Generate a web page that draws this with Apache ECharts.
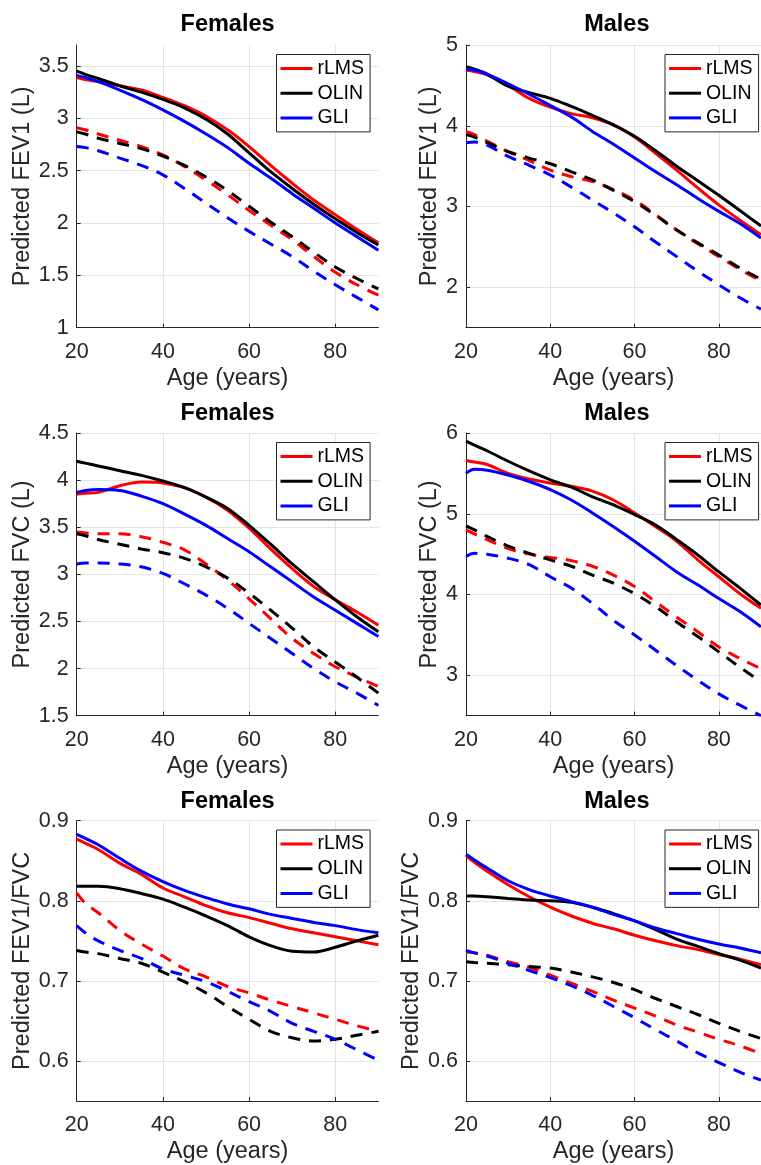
<!DOCTYPE html>
<html>
<head>
<meta charset="UTF-8">
<title>Predicted spirometry</title>
<style>
  html, body { margin: 0; padding: 0; background: #fff; }
  #box { width: 761px; height: 1165px; }
</style>
</head>
<body>
<div id="box"></div>
<script src="https://cdn.jsdelivr.net/npm/echarts@6/dist/echarts.min.js"></script>
<script>
var ages = [20, 22, 25, 30, 35, 40, 45, 50, 55, 60, 65, 70, 75, 80, 85, 90];
var ageTicks = [20, 40, 60, 80];
var models = ['rLMS', 'OLIN', 'GLI'];
var colors = ['#ff0000', '#000000', '#0000ff'];

// females FEV1 (solid = predicted, dashed = lower limit)
var fFev1Rlms = [3.39, 3.37, 3.35, 3.31, 3.27, 3.20, 3.12, 3.02, 2.89, 2.73, 2.55, 2.38, 2.22, 2.08, 1.94, 1.81];
var fFev1Olin = [3.45, 3.42, 3.38, 3.31, 3.25, 3.18, 3.10, 2.99, 2.85, 2.67, 2.49, 2.33, 2.18, 2.04, 1.91, 1.79];
var fFev1Gli  = [3.41, 3.39, 3.35, 3.27, 3.18, 3.08, 2.97, 2.85, 2.72, 2.57, 2.43, 2.28, 2.14, 2.00, 1.87, 1.74];
var fFev1RlmsLow = [2.91, 2.89, 2.85, 2.79, 2.73, 2.65, 2.54, 2.41, 2.27, 2.12, 1.98, 1.84, 1.68, 1.53, 1.41, 1.31];
var fFev1OlinLow = [2.87, 2.85, 2.81, 2.76, 2.71, 2.64, 2.55, 2.44, 2.31, 2.16, 2.01, 1.87, 1.72, 1.58, 1.47, 1.37];
var fFev1GliLow  = [2.73, 2.72, 2.69, 2.62, 2.55, 2.46, 2.33, 2.19, 2.05, 1.92, 1.80, 1.68, 1.54, 1.41, 1.29, 1.17];

// males FEV1
var mFev1Rlms = [4.69, 4.67, 4.63, 4.50, 4.34, 4.23, 4.15, 4.10, 4.01, 3.86, 3.66, 3.45, 3.23, 3.02, 2.83, 2.65];
var mFev1Olin = [4.73, 4.70, 4.64, 4.49, 4.41, 4.34, 4.24, 4.13, 4.01, 3.87, 3.69, 3.50, 3.32, 3.14, 2.95, 2.76];
var mFev1Gli  = [4.70, 4.69, 4.64, 4.52, 4.39, 4.25, 4.11, 3.93, 3.77, 3.60, 3.43, 3.27, 3.10, 2.94, 2.79, 2.61];
var mFev1RlmsLow = [3.93, 3.89, 3.81, 3.68, 3.57, 3.45, 3.37, 3.31, 3.21, 3.08, 2.90, 2.71, 2.54, 2.38, 2.22, 2.08];
var mFev1OlinLow = [3.89, 3.86, 3.79, 3.68, 3.60, 3.53, 3.43, 3.33, 3.20, 3.06, 2.89, 2.71, 2.55, 2.40, 2.24, 2.10];
var mFev1GliLow  = [3.79, 3.80, 3.76, 3.62, 3.51, 3.39, 3.24, 3.08, 2.92, 2.75, 2.56, 2.38, 2.20, 2.03, 1.87, 1.73];

// females FVC
var fFvcRlms = [3.85, 3.86, 3.87, 3.94, 3.98, 3.97, 3.92, 3.82, 3.68, 3.49, 3.27, 3.06, 2.87, 2.73, 2.60, 2.46];
var fFvcOlin = [4.20, 4.18, 4.15, 4.10, 4.05, 3.99, 3.92, 3.82, 3.70, 3.52, 3.32, 3.11, 2.92, 2.73, 2.55, 2.39];
var fFvcGli  = [3.87, 3.89, 3.90, 3.89, 3.83, 3.75, 3.64, 3.52, 3.38, 3.24, 3.08, 2.92, 2.76, 2.62, 2.48, 2.34];
var fFvcRlmsLow = [3.45, 3.44, 3.43, 3.43, 3.40, 3.34, 3.26, 3.11, 2.94, 2.74, 2.53, 2.32, 2.16, 2.02, 1.91, 1.81];
var fFvcOlinLow = [3.43, 3.41, 3.37, 3.32, 3.27, 3.23, 3.17, 3.08, 2.96, 2.80, 2.62, 2.43, 2.23, 2.07, 1.91, 1.74];
var fFvcGliLow  = [3.11, 3.12, 3.12, 3.11, 3.08, 3.01, 2.90, 2.78, 2.64, 2.48, 2.32, 2.16, 2.00, 1.86, 1.74, 1.61];

// males FVC
var mFvcRlms = [5.66, 5.64, 5.61, 5.50, 5.43, 5.38, 5.34, 5.28, 5.17, 5.01, 4.84, 4.66, 4.43, 4.22, 4.01, 3.83];
var mFvcOlin = [5.90, 5.85, 5.78, 5.65, 5.53, 5.42, 5.33, 5.21, 5.11, 4.99, 4.86, 4.68, 4.49, 4.28, 4.08, 3.87];
var mFvcGli  = [5.50, 5.55, 5.54, 5.48, 5.40, 5.30, 5.17, 5.01, 4.84, 4.66, 4.47, 4.28, 4.12, 3.95, 3.79, 3.60];
var mFvcRlmsLow = [4.80, 4.75, 4.68, 4.57, 4.50, 4.46, 4.42, 4.35, 4.24, 4.10, 3.91, 3.72, 3.54, 3.35, 3.21, 3.08];
var mFvcOlinLow = [4.85, 4.80, 4.72, 4.60, 4.51, 4.43, 4.35, 4.24, 4.14, 4.01, 3.85, 3.66, 3.48, 3.29, 3.10, 2.92];
var mFvcGliLow  = [4.47, 4.51, 4.50, 4.45, 4.37, 4.22, 4.08, 3.89, 3.68, 3.50, 3.31, 3.12, 2.94, 2.77, 2.63, 2.50];

// females FEV1/FVC
var fRatioRlms = [0.877, 0.872, 0.864, 0.847, 0.833, 0.816, 0.805, 0.794, 0.785, 0.779, 0.772, 0.765, 0.760, 0.755, 0.750, 0.745];
var fRatioOlin = [0.818, 0.818, 0.818, 0.815, 0.809, 0.802, 0.792, 0.781, 0.769, 0.755, 0.744, 0.737, 0.736, 0.742, 0.750, 0.757];
var fRatioGli  = [0.883, 0.878, 0.870, 0.853, 0.837, 0.824, 0.813, 0.804, 0.796, 0.790, 0.783, 0.778, 0.773, 0.769, 0.764, 0.760];
var fRatioRlmsLow = [0.810, 0.797, 0.785, 0.763, 0.746, 0.731, 0.715, 0.705, 0.693, 0.685, 0.676, 0.668, 0.660, 0.652, 0.644, 0.637];
var fRatioOlinLow = [0.738, 0.736, 0.734, 0.728, 0.722, 0.711, 0.699, 0.685, 0.668, 0.652, 0.637, 0.629, 0.625, 0.627, 0.632, 0.637];
var fRatioGliLow  = [0.769, 0.760, 0.750, 0.738, 0.728, 0.715, 0.707, 0.699, 0.687, 0.674, 0.662, 0.647, 0.637, 0.627, 0.614, 0.601];

// males FEV1/FVC
var mRatioRlms = [0.856, 0.848, 0.837, 0.820, 0.805, 0.792, 0.781, 0.772, 0.765, 0.757, 0.750, 0.744, 0.739, 0.733, 0.727, 0.720];
var mRatioOlin = [0.806, 0.806, 0.805, 0.803, 0.801, 0.800, 0.798, 0.792, 0.784, 0.775, 0.764, 0.752, 0.743, 0.734, 0.726, 0.716];
var mRatioGli  = [0.858, 0.851, 0.841, 0.825, 0.814, 0.806, 0.799, 0.792, 0.783, 0.775, 0.766, 0.759, 0.752, 0.746, 0.741, 0.735];
var mRatioRlmsLow = [0.736, 0.735, 0.732, 0.724, 0.717, 0.707, 0.697, 0.687, 0.676, 0.666, 0.656, 0.645, 0.636, 0.627, 0.619, 0.609];
var mRatioOlinLow = [0.724, 0.723, 0.722, 0.720, 0.718, 0.716, 0.711, 0.705, 0.698, 0.689, 0.678, 0.668, 0.658, 0.647, 0.637, 0.628];
var mRatioGliLow  = [0.738, 0.735, 0.731, 0.722, 0.713, 0.704, 0.694, 0.682, 0.668, 0.654, 0.639, 0.625, 0.610, 0.598, 0.586, 0.576];

var fev1Ticks = [1, 1.5, 2, 2.5, 3, 3.5];
var mFev1Ticks = [2, 3, 4, 5];
var fFvcTicks = [1.5, 2, 2.5, 3, 3.5, 4, 4.5];
var mFvcTicks = [3, 4, 5, 6];
var ratioTicks = [0.6, 0.7, 0.8, 0.9];

var panels = [
  {title: 'Females', ylab: 'Predicted FEV1 (L)', ymin: 1, ymax: 3.7, ticks: fev1Ticks, gap: 42,
   solid: [fFev1Rlms, fFev1Olin, fFev1Gli], low: [fFev1RlmsLow, fFev1OlinLow, fFev1GliLow]},
  {title: 'Males', ylab: 'Predicted FEV1 (L)', ymin: 1.5, ymax: 5, ticks: mFev1Ticks, gap: 24,
   solid: [mFev1Rlms, mFev1Olin, mFev1Gli], low: [mFev1RlmsLow, mFev1OlinLow, mFev1GliLow]},
  {title: 'Females', ylab: 'Predicted FVC (L)', ymin: 1.5, ymax: 4.5, ticks: fFvcTicks, gap: 42,
   solid: [fFvcRlms, fFvcOlin, fFvcGli], low: [fFvcRlmsLow, fFvcOlinLow, fFvcGliLow]},
  {title: 'Males', ylab: 'Predicted FVC (L)', ymin: 2.5, ymax: 6, ticks: mFvcTicks, gap: 24,
   solid: [mFvcRlms, mFvcOlin, mFvcGli], low: [mFvcRlmsLow, mFvcOlinLow, mFvcGliLow]},
  {title: 'Females', ylab: 'Predicted FEV1/FVC', ymin: 0.55, ymax: 0.9, ticks: ratioTicks, gap: 42,
   solid: [fRatioRlms, fRatioOlin, fRatioGli], low: [fRatioRlmsLow, fRatioOlinLow, fRatioGliLow]},
  {title: 'Males', ylab: 'Predicted FEV1/FVC', ymin: 0.55, ymax: 0.9, ticks: ratioTicks, gap: 42,
   solid: [mRatioRlms, mRatioOlin, mRatioGli], low: [mRatioRlmsLow, mRatioOlinLow, mRatioGliLow]}
];

var font = 'Liberation Sans, Arial, Helvetica, sans-serif';
var ink = '#262626';
var gridColor = '#e3e3e3';
var colLeft = [76.7, 466];
var rowTop = [45, 433, 820.7];
var legendTop = [54.5, 442.5, 830];
var titleTop = [13, 401.5, 789.5];
var plotW = 301.7, plotH = 282.7;

function pairs(ys) {
  return ages.map(function (a, k) { return [a, ys[k]]; });
}

var grids = [], xAxes = [], yAxes = [], titles = [], legends = [], series = [];

panels.forEach(function (p, i) {
  var col = i % 2, row = Math.floor(i / 2);
  grids.push({left: colLeft[col], top: rowTop[row], width: plotW, height: plotH, containLabel: false});
  titles.push({
    text: p.title, left: colLeft[col] + plotW / 2, top: titleTop[row], textAlign: 'center', padding: 0,
    textStyle: {fontFamily: font, fontSize: 23.5, fontWeight: 'bold', color: '#000'}
  });
  xAxes.push({
    type: 'value', gridIndex: i, min: 20, max: 90,
    name: 'Age (years)', nameLocation: 'middle', nameGap: 39,
    nameTextStyle: {fontFamily: font, fontSize: 23.5, color: ink},
    axisLine: {onZero: false, lineStyle: {color: ink, width: 1}},
    axisTick: {show: true, inside: true, length: 4, customValues: ageTicks, lineStyle: {color: ink}},
    axisLabel: {customValues: ageTicks, margin: 13, fontFamily: font, fontSize: 21.5, color: ink},
    splitLine: {show: true, lineStyle: {color: gridColor, width: 1}}
  });
  yAxes.push({
    type: 'value', gridIndex: i, min: p.ymin, max: p.ymax,
    name: p.ylab, nameLocation: 'middle', nameGap: p.gap,
    nameTextStyle: {fontFamily: font, fontSize: 23.5, color: ink},
    axisLine: {show: true, onZero: false, lineStyle: {color: ink, width: 1}},
    axisTick: {show: true, inside: true, length: 4, customValues: p.ticks, lineStyle: {color: ink}},
    axisLabel: {customValues: p.ticks, margin: 8, fontFamily: font, fontSize: 21.5, color: ink},
    splitLine: {show: true, lineStyle: {color: gridColor, width: 1}}
  });
  legends.push({
    data: models, left: col ? 665 : 276.5, top: legendTop[row], orient: 'vertical',
    selectedMode: false, icon: 'rect', itemWidth: 32, itemHeight: 3, itemGap: 4.7,
    padding: [4, 6, 4, 4], backgroundColor: '#fff', borderColor: ink, borderWidth: 1, borderRadius: 0,
    textStyle: {fontFamily: font, fontSize: 19.5, lineHeight: 20, color: '#000'}
  });
  models.forEach(function (m, j) {
    series.push({
      name: m, type: 'line', xAxisIndex: i, yAxisIndex: i, data: pairs(p.solid[j]),
      showSymbol: false, symbol: 'none', smooth: 0.35, color: colors[j],
      lineStyle: {color: colors[j], width: 3}
    });
    series.push({
      name: m + ' lower limit', type: 'line', xAxisIndex: i, yAxisIndex: i, data: pairs(p.low[j]),
      showSymbol: false, symbol: 'none', smooth: 0.35, color: colors[j],
      lineStyle: {color: colors[j], width: 3, type: [12, 9]}
    });
  });
});

var myChart = echarts.init(document.getElementById('box'), null, {renderer: 'canvas'});
myChart.setOption({
  animation: false,
  backgroundColor: '#fff',
  title: titles,
  grid: grids,
  xAxis: xAxes,
  yAxis: yAxes,
  legend: legends,
  series: series
});
</script>
</body>
</html>
